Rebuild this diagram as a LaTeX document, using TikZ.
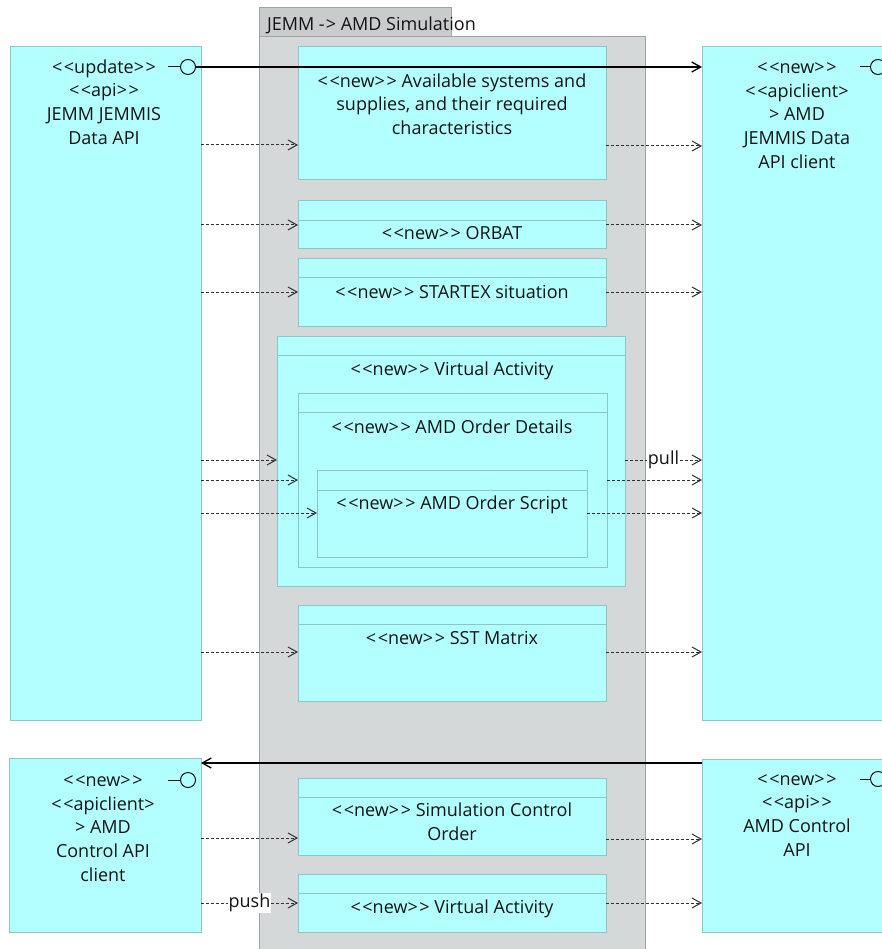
\documentclass[tikz,border=0pt]{standalone}
\usepackage{fontspec}
\setmainfont{Open Sans}[Ligatures=TeXOff]
\usetikzlibrary{arrows.meta,calc}
\definecolor{cyfill}{HTML}{B3FFFF}
\definecolor{cyline}{HTML}{8CC6C6}
\definecolor{pkfill}{HTML}{D4D8D8}
\definecolor{tabfill}{HTML}{C9CCCC}
\definecolor{pkline}{HTML}{A0A4A4}
\definecolor{txt}{HTML}{141414}
\definecolor{dep}{HTML}{303030}
\newcommand\lguil{<\kern1.6pt<}
\newcommand\rguil{>\kern1.6pt>}
\tikzset{
  cbox/.style={draw=cyline, fill=cyfill, line width=1pt, inner sep=0pt, outer sep=0pt, anchor=north west},
  pkbox/.style={draw=pkline, fill=pkfill, line width=1pt, inner sep=0pt, outer sep=0pt, anchor=north west},
  tabbox/.style={draw=pkline, fill=tabfill, line width=1pt, inner sep=0pt, outer sep=0pt, anchor=north west},
  divline/.style={draw=cyline, line width=1pt},
  lbl/.style={inner sep=0pt, outer sep=0pt, text=txt, align=center, font=\fontsize{18}{23.7}\selectfont},
  depline/.style={draw=dep, line width=1pt, dash pattern=on 3pt off 2pt, -{Straight Barb[length=9pt,width=10pt]}},
  solidline/.style={draw=black, line width=1.3pt},
  lolli/.style={circle, draw=txt, line width=1pt, fill=cyfill, minimum size=15pt, inner sep=0pt},
  tag/.style={fill=white, inner sep=1pt, text=txt, font=\fontsize{18}{20}\selectfont},
}
\begin{document}
\begin{tikzpicture}[x=1pt,y=-1pt]
\useasboundingbox (0,0) rectangle (882,949);
\clip (0,0) rectangle (882,949);
\fill[white] (0,0) rectangle (882,949);

% package
\node[tabbox, minimum width=192pt, minimum height=29pt] (tab) at (259,8) {};
\node[pkbox, minimum width=386pt, minimum height=930pt] (pkg) at (259,37) {};
\node[lbl, anchor=west] (tabtxt) at (267,25) {JEMM -\kern1pt> AMD Simulation};

% side components
\node[cbox, minimum width=191pt, minimum height=673pt] (jemm) at (10,47) {};
\node[cbox, minimum width=200pt, minimum height=673pt] (amdc) at (702,47) {};
\node[cbox, minimum width=192pt, minimum height=174pt] (ctlc) at (9,758) {};
\node[cbox, minimum width=200pt, minimum height=173pt] (ctl) at (702,759) {};

\node[lbl] (jemmtxt) at (104,104) {\strut\lguil update\rguil\\\lguil api\rguil\\JEMM JEMMIS\\Data API\strut};
\node[lbl] (amdctxt) at (797,116) {\strut\lguil new\rguil\\\lguil apiclient>\\> AMD\\JEMMIS Data\\API client\strut};
\node[lbl] (ctlctxt) at (103,829) {\strut\lguil new\rguil\\\lguil apiclient>\\> AMD\\Control API\\client\strut};
\node[lbl] (ctltxt) at (797,816) {\strut\lguil new\rguil\\\lguil api\rguil\\AMD Control\\API\strut};

% lollipops
\node[lolli] (lp1) at (188,67) {};
\draw[draw=txt, line width=1pt] (lp1.west) -- ++(-12,0);
\node[lolli] (lp2) at (188,780) {};
\draw[draw=txt, line width=1pt] (lp2.west) -- ++(-12,0);
\node[lolli] (lp3) at (878,67) {};
\draw[draw=txt, line width=1pt] (lp3.west) -- ++(-10,0);
\node[lolli] (lp4) at (878,779) {};
\draw[draw=txt, line width=1pt] (lp4.west) -- ++(-10,0);

% inner elements
\node[cbox, minimum width=308pt, minimum height=133pt] (avail) at (298,47) {};
\node[lbl] (availtxt) at (452,106) {\strut\lguil new\rguil{} Available systems and\\supplies, and their required\\characteristics\strut};

\node[cbox, minimum width=308pt, minimum height=48pt] (orbat) at (298,201) {};
\draw[divline] (orbat.west |- 0,221) -- (orbat.east |- 0,221);
\node[lbl] (orbattxt) at (452,235) {\strut\lguil new\rguil{} ORBAT\strut};

\node[cbox, minimum width=308pt, minimum height=67pt] (startex) at (298,259) {};
\draw[divline] (startex.west |- 0,278) -- (startex.east |- 0,278);
\node[lbl] (startextxt) at (452,294) {\strut\lguil new\rguil{} STARTEX situation\strut};

\node[cbox, minimum width=348pt, minimum height=250pt] (va) at (277,336) {};
\draw[divline] (va.west |- 0,355) -- (va.east |- 0,355);
\node[lbl] (vatxt) at (452,371) {\strut\lguil new\rguil{} Virtual Activity\strut};

\node[cbox, minimum width=309pt, minimum height=174pt] (aod) at (298,393) {};
\draw[divline] (aod.west |- 0,412) -- (aod.east |- 0,412);
\node[lbl] (aodtxt) at (452,429) {\strut\lguil new\rguil{} AMD Order Details\strut};

\node[cbox, minimum width=270pt, minimum height=87pt] (aos) at (317,470) {};
\draw[divline] (aos.west |- 0,490) -- (aos.east |- 0,490);
\node[lbl] (aostxt) at (452,505) {\strut\lguil new\rguil{} AMD Order Script\strut};

\node[cbox, minimum width=308pt, minimum height=96pt] (sst) at (298,605) {};
\draw[divline] (sst.west |- 0,624) -- (sst.east |- 0,624);
\node[lbl] (ssttxt) at (452,640) {\strut\lguil new\rguil{} SST Matrix\strut};

\node[cbox, minimum width=308pt, minimum height=77pt] (sco) at (298,778) {};
\draw[divline] (sco.west |- 0,797) -- (sco.east |- 0,797);
\node[lbl] (scotxt) at (452,824) {\strut\lguil new\rguil{} Simulation Control\\Order\strut};

\node[cbox, minimum width=308pt, minimum height=58pt] (va2) at (298,874) {};
\draw[divline] (va2.west |- 0,893) -- (va2.east |- 0,893);
\node[lbl] (va2txt) at (452,909) {\strut\lguil new\rguil{} Virtual Activity\strut};

% solid connectors
\draw[solidline, -{Straight Barb[length=9pt,width=10pt]}] (lp1.east) -- (amdc.west |- lp1.east);
\draw[solidline, -{Straight Barb[length=9pt,width=10pt]}] (ctl.west |- 0,763) -- (ctlc.east |- 0,763);

% dependencies left side
\draw[depline] (jemm.east |- 0,145) -- (avail.west |- 0,145);
\draw[depline] (jemm.east |- 0,225) -- (orbat.west |- 0,225);
\draw[depline] (jemm.east |- 0,292) -- (startex.west |- 0,292);
\draw[depline] (jemm.east |- 0,460) -- (va.west |- 0,460);
\draw[depline] (jemm.east |- 0,480) -- (aod.west |- 0,480);
\draw[depline] (jemm.east |- 0,513) -- (aos.west |- 0,513);
\draw[depline] (jemm.east |- 0,652) -- (sst.west |- 0,652);
% dependencies right side
\draw[depline] (avail.east |- 0,146) -- (amdc.west |- 0,146);
\draw[depline] (orbat.east |- 0,225) -- (amdc.west |- 0,225);
\draw[depline] (startex.east |- 0,292) -- (amdc.west |- 0,292);
\draw[depline] (va.east |- 0,460) -- node[tag] (pull) {pull} (amdc.west |- 0,460);
\draw[depline] (aod.east |- 0,480) -- (amdc.west |- 0,480);
\draw[depline] (aos.east |- 0,513) -- (amdc.west |- 0,513);
\draw[depline] (sst.east |- 0,652) -- (amdc.west |- 0,652);
% lower dependencies
\draw[depline] (ctlc.east |- 0,838) -- (sco.west |- 0,838);
\draw[depline] (ctlc.east |- 0,903) -- node[tag] (push) {push} (va2.west |- 0,903);
\draw[depline] (sco.east |- 0,839) -- (ctl.west |- 0,839);
\draw[depline] (va2.east |- 0,903) -- (ctl.west |- 0,903);
\end{tikzpicture}
\end{document}
